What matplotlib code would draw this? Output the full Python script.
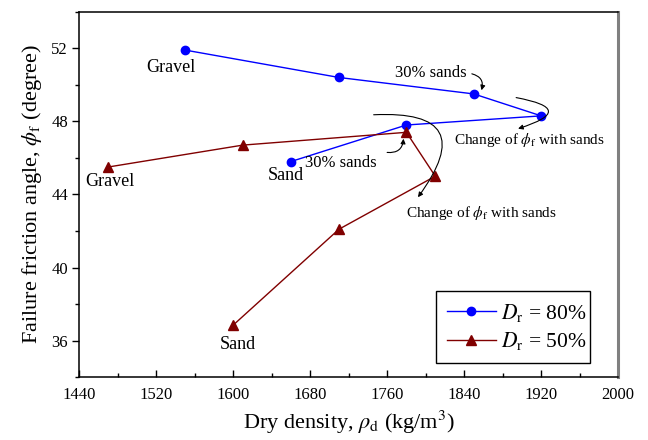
import matplotlib.pyplot as plt
from matplotlib.ticker import MultipleLocator

plt.rcParams['font.family'] = ['Liberation Serif', 'DejaVu Serif']
plt.rcParams['mathtext.fontset'] = 'stix'

# Dry density (kg/m3) and failure friction angle (deg), gravel -> sand
density_80 = [1550, 1710, 1850, 1920, 1780, 1660]
phi_80 = [51.9, 50.4, 49.5, 48.3, 47.8, 45.8]

density_50 = [1470, 1610, 1780, 1810, 1710, 1600]
phi_50 = [45.5, 46.7, 47.4, 45.0, 42.1, 36.85]

fig = plt.figure(figsize=(6.48, 4.4), dpi=100)
ax = fig.add_axes([0.122, 0.1425, 0.832, 0.831])

ax.plot(density_80, phi_80, color='#0000ff', lw=1.0, marker='o', ms=6,
        label=r'$D_\mathrm{r}$ = 80%')
ax.plot(density_50, phi_50, color='#800000', lw=1.0, marker='^', ms=6.5,
        label=r'$D_\mathrm{r}$ = 50%')

ax.set_xlim(1440, 2000)
ax.set_ylim(34, 54)
ax.xaxis.set_major_locator(MultipleLocator(80))
ax.xaxis.set_minor_locator(MultipleLocator(40))
ax.yaxis.set_major_locator(MultipleLocator(4))
ax.yaxis.set_minor_locator(MultipleLocator(2))

ax.tick_params(axis='x', which='both', direction='in', labelsize=12, pad=7)
ax.tick_params(axis='y', which='both', direction='out', labelsize=12, pad=3)
ax.tick_params(which='major', length=5, width=1)
ax.tick_params(which='minor', length=3, width=1)
for side in ['left', 'bottom', 'top']:
    ax.spines[side].set_linewidth(1.1)
ax.spines['right'].set_color('#808080')
ax.spines['right'].set_linewidth(2.2)

ax.set_xlabel(r'Dry density, $\rho_\mathrm{d}$ (kg/m$^3$)', fontsize=16, labelpad=4)
ax.set_ylabel(r'Failure friction angle, $\phi_\mathrm{f}$ (degree)', fontsize=16, labelpad=5)

# point labels
ax.text(1535, 50.95, 'Gravel', fontsize=13, ha='center', va='center')
ax.text(1655, 45.05, 'Sand', fontsize=13, ha='center', va='center')
ax.text(1472, 44.7, 'Gravel', fontsize=13, ha='center', va='center')
ax.text(1605, 35.8, 'Sand', fontsize=13, ha='center', va='center')

ax.text(1805, 50.67, '30% sands', fontsize=12, ha='center', va='center')
ax.text(1712, 45.7, '30% sands', fontsize=12, ha='center', va='center')
ax.text(1908, 47.0, r'Change of $\phi_\mathrm{f}$ with sands', fontsize=11,
        ha='center', va='center')
ax.text(1858, 43.0, r'Change of $\phi_\mathrm{f}$ with sands', fontsize=11,
        ha='center', va='center')

arrow = dict(arrowstyle='-|>', color='black', lw=0.8, mutation_scale=7,
             shrinkA=0, shrinkB=0)
ax.annotate('', xy=(1858, 49.7), xytext=(1848, 50.6),
            arrowprops=dict(arrow, connectionstyle='arc3,rad=-0.5'))
ax.annotate('', xy=(1896, 47.6), xytext=(1894, 49.3),
            arrowprops=dict(arrow, connectionstyle='arc3,rad=-2.0'))
ax.annotate('', xy=(1777, 47.05), xytext=(1760, 46.3),
            arrowprops=dict(arrow, connectionstyle='arc3,rad=0.5'))
ax.annotate('', xy=(1792, 43.85), xytext=(1746, 48.36),
            arrowprops=dict(arrow, connectionstyle='arc3,rad=-1.05'))

leg = ax.legend(loc='lower left', bbox_to_anchor=(0.662, 0.039, 0.286, 0.2025),
                mode='expand', borderaxespad=0, fontsize=15.5, frameon=True,
                fancybox=False, edgecolor='black', framealpha=1,
                handlelength=2.3, borderpad=0.5, labelspacing=0.3,
                handletextpad=0.2)
leg.get_frame().set_linewidth(1.0)

fig.savefig('out.png', dpi=100)
